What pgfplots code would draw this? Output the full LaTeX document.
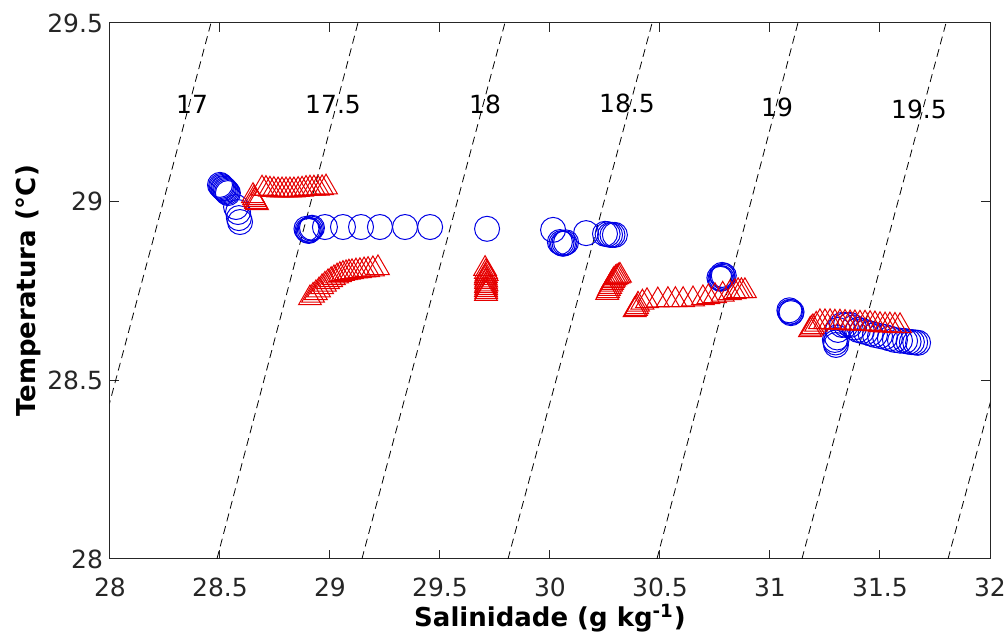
\documentclass[border=0pt]{standalone}
\usepackage{fontspec}
\setmainfont{DejaVu Sans}
\usepackage{pgfplots}
\usepackage{pgfplotstable}
\pgfplotsset{compat=1.18}

\pgfplotstableread{
S T
28.500 29.047
28.505 29.044
28.509 29.041
28.514 29.038
28.518 29.036
28.523 29.033
28.527 29.030
28.532 29.027
28.536 29.024
28.573 28.985
28.582 28.971
28.586 28.954
28.591 28.943
28.893 28.924
28.898 28.920
28.903 28.918
28.908 28.921
28.913 28.925
28.918 28.927
28.977 28.929
29.059 28.929
29.141 28.929
29.227 28.929
29.341 28.929
29.455 28.929
29.714 28.924
30.014 28.921
30.045 28.887
30.052 28.884
30.059 28.882
30.066 28.884
30.073 28.886
30.164 28.912
30.250 28.910
30.262 28.909
30.273 28.907
30.284 28.907
30.295 28.907
30.770 28.787
30.775 28.784
30.780 28.786
30.785 28.790
30.790 28.793
30.782 28.795
31.088 28.696
31.091 28.692
31.095 28.688
31.098 28.691
31.295 28.613
31.298 28.606
31.300 28.599
31.305 28.620
31.309 28.641
31.327 28.655
31.345 28.655
31.364 28.655
31.382 28.648
31.400 28.641
31.418 28.638
31.436 28.635
31.457 28.631
31.477 28.627
31.500 28.624
31.523 28.621
31.545 28.617
31.568 28.613
31.591 28.611
31.614 28.610
31.630 28.608
31.645 28.607
31.660 28.606
31.673 28.605
}\bluedata

\pgfplotstableread{
S T
28.650 29.016
28.655 29.010
28.659 29.005
28.664 29.000
28.668 28.996
28.691 29.037
28.709 29.036
28.727 29.034
28.745 29.033
28.764 29.032
28.782 29.032
28.800 29.032
28.818 29.032
28.836 29.032
28.855 29.033
28.873 29.034
28.891 29.036
28.909 29.037
28.927 29.037
28.945 29.037
28.964 29.038
28.982 29.040
28.909 28.730
28.923 28.737
28.936 28.744
28.950 28.752
28.964 28.761
28.977 28.768
28.991 28.775
29.005 28.781
29.018 28.786
29.032 28.791
29.045 28.795
29.059 28.798
29.073 28.800
29.086 28.802
29.100 28.803
29.118 28.805
29.136 28.806
29.155 28.808
29.173 28.809
29.195 28.811
29.218 28.814
29.705 28.812
29.709 28.804
29.712 28.798
29.709 28.792
29.708 28.786
29.710 28.780
29.709 28.775
29.711 28.769
29.709 28.764
29.710 28.758
29.709 28.753
29.710 28.747
29.709 28.742
30.260 28.745
30.264 28.750
30.268 28.756
30.273 28.762
30.278 28.768
30.282 28.773
30.287 28.778
30.291 28.782
30.298 28.786
30.305 28.789
30.312 28.791
30.318 28.793
30.385 28.697
30.391 28.700
30.396 28.705
30.400 28.712
30.420 28.718
30.441 28.722
30.490 28.724
30.536 28.725
30.570 28.725
30.605 28.725
30.650 28.727
30.695 28.730
30.720 28.733
30.750 28.736
30.785 28.740
30.818 28.744
30.840 28.747
30.855 28.750
30.870 28.750
30.886 28.750
31.182 28.641
31.188 28.645
31.195 28.649
31.210 28.656
31.227 28.663
31.250 28.663
31.273 28.663
31.295 28.662
31.318 28.662
31.341 28.661
31.364 28.660
31.386 28.660
31.409 28.659
31.432 28.659
31.455 28.658
31.477 28.657
31.500 28.655
31.523 28.654
31.545 28.654
31.568 28.653
31.591 28.652
}\reddata

\pgfplotsset{iso/.style={black, line width=0.4pt, dash pattern=on 4pt off 2.5pt, no marks}}

\begin{document}
\begin{tikzpicture}
\useasboundingbox (-55pt,-39pt) rectangle (448.5pt,279.5pt);
\begin{axis}[
  at={(0pt,0pt)}, anchor=south west,
  scale only axis, width=440pt, height=268pt,
  xmin=28, xmax=32, ymin=28, ymax=29.5,
  xtick={28,28.5,29,29.5,30,30.5,31,31.5,32},
  ytick={28,28.5,29,29.5},
  tick align=inside, major tick length=4.4pt,
  tick style={black!85, line width=0.5pt},
  axis line style={black!85, line width=0.5pt},
  /pgf/number format/assume math mode=true,
  ticklabel style={font=\fontsize{12.5}{14}\selectfont, text=black!85},
  xticklabel style={yshift=-6pt},
  xlabel={\textbf{Salinidade (g kg\textsuperscript{-1})}},
  ylabel={\textbf{Temperatura (°C)}},
  label style={font=\fontsize{13}{15}\selectfont},
  xlabel style={at={(axis description cs:0.5,-0.110)}, anchor=center},
  ylabel style={at={(axis description cs:-0.0932,0.5)}, anchor=center},
]
\addplot[iso] coordinates {(27.809,28) (28.459,29.5)};
\addplot[iso] coordinates {(28.486,28) (29.127,29.5)};
\addplot[iso] coordinates {(29.145,28) (29.795,29.5)};
\addplot[iso] coordinates {(29.809,28) (30.464,29.5)};
\addplot[iso] coordinates {(30.486,28) (31.127,29.5)};
\addplot[iso] coordinates {(31.145,28) (31.800,29.5)};
\addplot[iso] coordinates {(31.809,28) (32.468,29.5)};
\addplot[only marks, mark=o, mark size=6.25pt, blue!90!black, line width=0.5pt] table[x=S,y=T] {\bluedata};
\addplot[only marks, mark=triangle, mark size=6.6pt, red!90!black, line width=0.5pt] table[x=S,y=T] {\reddata};
\node[font=\fontsize{12.5}{14}\selectfont] at (axis cs:28.373,29.271) {17};
\node[font=\fontsize{12.5}{14}\selectfont] at (axis cs:29.014,29.271) {17.5};
\node[font=\fontsize{12.5}{14}\selectfont] at (axis cs:29.705,29.271) {18};
\node[font=\fontsize{12.5}{14}\selectfont] at (axis cs:30.350,29.276) {18.5};
\node[font=\fontsize{12.5}{14}\selectfont] at (axis cs:31.032,29.265) {19};
\node[font=\fontsize{12.5}{14}\selectfont] at (axis cs:31.677,29.257) {19.5};
\end{axis}
\end{tikzpicture}
\end{document}
